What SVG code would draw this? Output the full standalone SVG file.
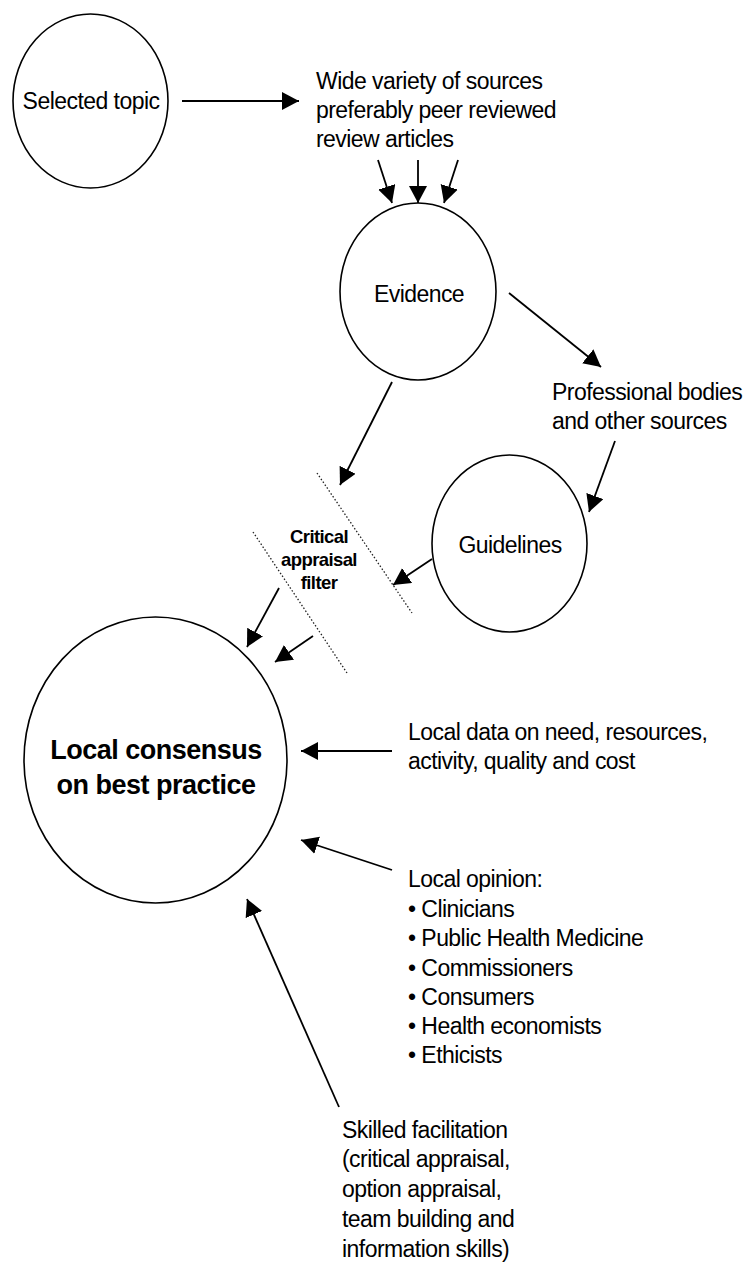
<svg xmlns="http://www.w3.org/2000/svg" width="750" height="1264" viewBox="0 0 750 1264">
  <defs>
    <marker id="arrow" markerUnits="userSpaceOnUse" markerWidth="19" markerHeight="19" refX="17" refY="9" orient="auto">
      <path d="M0,0 L17,9 L0,18 z" fill="#000"/>
    </marker>
    <style>
      .node { fill: #fff; stroke: #000; stroke-width: 1.6; }
      .txt { font-family: "Liberation Sans", Arial, sans-serif; font-size: 23px; letter-spacing: -0.55px; fill: #000; }
      .mid { text-anchor: middle; }
      .bold { font-weight: bold; }
      .filter { font-family: "Liberation Sans", Arial, sans-serif; font-size: 18.5px; font-weight: bold; letter-spacing: -0.6px; text-anchor: middle; fill: #000; }
      .conn line { stroke: #000; stroke-width: 1.8; marker-end: url(#arrow); }
      .dotted { stroke: #222; stroke-width: 1.3; stroke-dasharray: 1.5 2; fill: none; }
    </style>
  </defs>
  <rect width="750" height="1264" fill="#fff"/>

  <!-- circles -->
  <g id="selected-topic">
    <ellipse class="node" cx="90.5" cy="101" rx="77.5" ry="87"/>
    <text class="txt mid" x="91" y="109">Selected topic</text>
  </g>

  <g id="evidence">
    <ellipse class="node" cx="418" cy="291.5" rx="78" ry="88.5"/>
    <text class="txt mid" x="419" y="302">Evidence</text>
  </g>

  <g id="guidelines">
    <ellipse class="node" cx="509.5" cy="543.5" rx="77.5" ry="88.5"/>
    <text class="txt mid" x="510" y="553">Guidelines</text>
  </g>

  <g id="local-consensus">
    <ellipse class="node" cx="155.5" cy="760" rx="131.5" ry="143"/>
    <text class="txt mid bold" x="156" y="759" style="font-size:27px;letter-spacing:-0.5px">Local consensus</text>
    <text class="txt mid bold" x="156" y="794" style="font-size:27px;letter-spacing:-0.5px">on best practice</text>
  </g>

  <!-- free-text labels -->
  <g id="sources">
    <text class="txt" x="316" y="89">Wide variety of sources</text>
    <text class="txt" x="316" y="118">preferably peer reviewed</text>
    <text class="txt" x="316" y="147">review articles</text>
  </g>

  <g id="professional-bodies">
    <text class="txt" x="552" y="400">Professional bodies</text>
    <text class="txt" x="552" y="429">and other sources</text>
  </g>

  <g id="critical-appraisal-filter">
    <line class="dotted" x1="317" y1="473" x2="412" y2="613"/>
    <line class="dotted" x1="253" y1="532" x2="347" y2="673"/>
    <text class="filter" x="319" y="543">Critical</text>
    <text class="filter" x="319" y="566">appraisal</text>
    <text class="filter" x="319" y="589">filter</text>
  </g>

  <g id="local-data">
    <text class="txt" x="408" y="740">Local data on need, resources,</text>
    <text class="txt" x="408" y="769">activity, quality and cost</text>
  </g>

  <g id="local-opinion">
    <text class="txt" x="408" y="887">Local opinion:</text>
    <text class="txt" x="408" y="917">• Clinicians</text>
    <text class="txt" x="408" y="946">• Public Health Medicine</text>
    <text class="txt" x="408" y="976">• Commissioners</text>
    <text class="txt" x="408" y="1005">• Consumers</text>
    <text class="txt" x="408" y="1034">• Health economists</text>
    <text class="txt" x="408" y="1063">• Ethicists</text>
  </g>

  <g id="skilled-facilitation">
    <text class="txt" x="342" y="1138">Skilled facilitation</text>
    <text class="txt" x="342" y="1167">(critical appraisal,</text>
    <text class="txt" x="342" y="1197">option appraisal,</text>
    <text class="txt" x="342" y="1227">team building and</text>
    <text class="txt" x="342" y="1257">information skills)</text>
  </g>

  <!-- connectors -->
  <g id="connectors" class="conn">
    <line x1="182" y1="101" x2="299" y2="101"/>
    <line x1="378" y1="160" x2="392" y2="203"/>
    <line x1="418" y1="160" x2="418" y2="203"/>
    <line x1="458" y1="160" x2="444" y2="203"/>
    <line x1="509" y1="293" x2="601" y2="367"/>
    <line x1="615" y1="441" x2="589" y2="512"/>
    <line x1="392" y1="382" x2="340" y2="485"/>
    <line x1="432" y1="559" x2="393" y2="585"/>
    <line x1="279" y1="588" x2="247" y2="647"/>
    <line x1="313" y1="636" x2="275" y2="662"/>
    <line x1="392" y1="751" x2="301" y2="751"/>
    <line x1="392" y1="870" x2="301" y2="840"/>
    <line x1="339" y1="1107" x2="247" y2="899"/>
  </g>
</svg>
